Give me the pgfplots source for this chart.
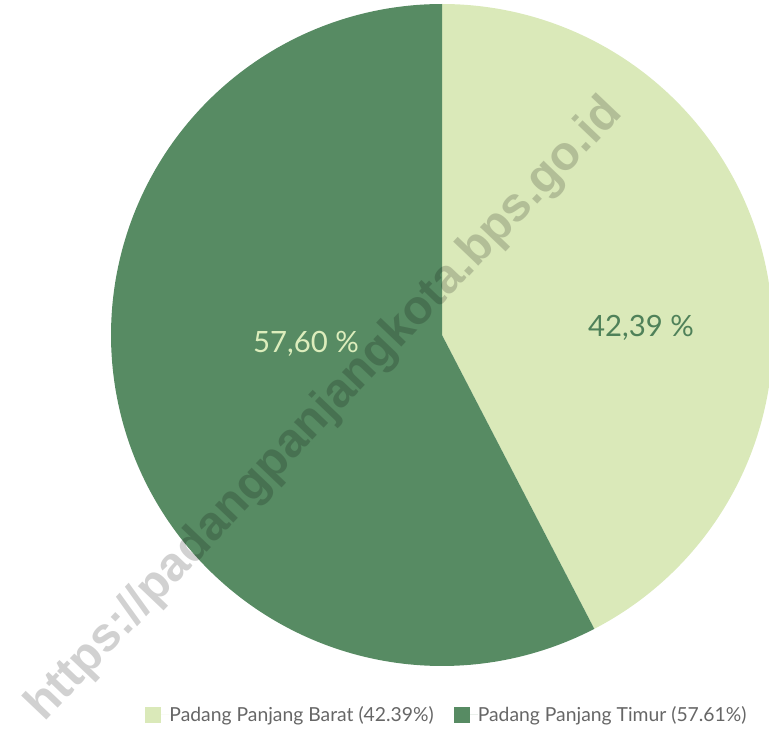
\documentclass[border=0pt]{standalone}
\usepackage{pgfplots}
\pgfplotsset{compat=1.18}
\usepackage{pgfplotstable}
\usepackage{fontspec}
\setmainfont{Lato}
\newfontfamily\wmfont{Liberation Sans}
\definecolor{lightg}{HTML}{DAE9B9}
\definecolor{darkg}{HTML}{578B63}
\definecolor{lbldark}{HTML}{4F8159}
\definecolor{lbllight}{HTML}{DCEDBC}
\definecolor{legtext}{HTML}{666666}

\pgfplotstableread{
label value
Barat 42.39
Timur 57.61
}\piedata

\begin{document}
\begin{tikzpicture}
\pgfplotstablegetelem{0}{value}\of\piedata \let\va\pgfplotsretval
\pgfplotstablegetelem{1}{value}\of\piedata \let\vb\pgfplotsretval
\pgfmathsetmacro{\aA}{90}
\pgfmathsetmacro{\aB}{90-3.6*\va}
\pgfmathsetmacro{\aC}{90-3.6*(\va+\vb)}
\begin{axis}[
  hide axis, scale only axis,
  width=576.75pt, height=549pt,
  xmin=0, xmax=769, ymin=0, ymax=732,
  clip=true,
  legend style={at={(axis cs:446,17)}, anchor=center, draw=none, fill=none,
    legend columns=2, font=\fontsize{14.5}{16}\selectfont, text=legtext,
    nodes={inner sep=0pt},
    /tikz/every even column/.append style={column sep=15pt},
    legend cell align=left},
  legend image code/.code={\fill[#1] (0pt,-6pt) rectangle (12pt,6pt); \path (0pt,0pt) -- (18pt,0pt);},
]
\coordinate (bl) at (axis cs:0,0);
\coordinate (tr) at (axis cs:769,732);
\addplot[fill=lightg, draw=none, domain=\aB:\aA, samples=200]
  ({442+331*cos(x)},{397+331*sin(x)}) -- (axis cs:442,397) -- cycle;
\addlegendentry{Padang Panjang Barat (42.39\%)}
\addplot[fill=darkg, draw=none, domain=\aC:\aB, samples=250]
  ({442+331*cos(x)},{397+331*sin(x)}) -- (axis cs:442,397) -- cycle;
\addlegendentry{Padang Panjang Timur (57.61\%)}
\node[text=lbllight, font=\fontsize{22}{22}\selectfont] at (axis cs:306,388) {57,60 \%};
\node[text=lbldark, font=\fontsize{22}{22}\selectfont] at (axis cs:641,404) {42,39 \%};
\node[rotate=46.4, text=black, opacity=0.18, font=\wmfont\bfseries\fontsize{36}{36}\selectfont]
  at (axis cs:325,322) {https://padangpanjangkota.bps.go.id};
\end{axis}
\pgfresetboundingbox
\path (bl) rectangle (tr);
\end{tikzpicture}
\end{document}
